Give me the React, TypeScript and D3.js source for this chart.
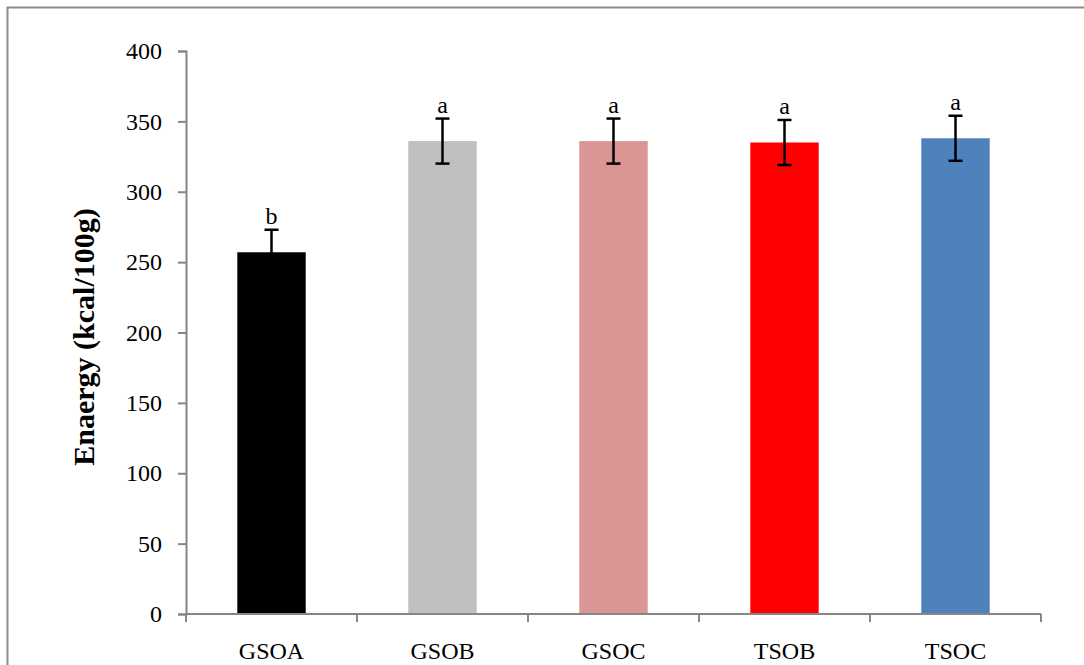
import React, { useEffect, useRef } from 'react';
import * as d3 from 'd3';

const categories = ['GSOA', 'GSOB', 'GSOC', 'TSOB', 'TSOC'];
const values = [257, 336, 336, 335, 338];
const errors = [16, 16, 16, 16, 16];
const letters = ['b', 'a', 'a', 'a', 'a'];
const colors = ['#000000', '#c0c0c0', '#d99694', '#ff0000', '#4f81bd'];
const yTicks = [0, 50, 100, 150, 200, 250, 300, 350, 400];

const width = 1084;
const height = 665;

export default function App() {
  const ref = useRef<SVGSVGElement>(null);

  useEffect(() => {
    const svg = d3.select(ref.current);
    svg.selectAll('*').remove();

    const font = '"Liberation Serif", "Times New Roman", serif';
    const axisColor = '#868686';

    // frame
    svg.append('rect')
      .attr('x', 7.5).attr('y', 7.5)
      .attr('width', width + 20).attr('height', height + 20)
      .attr('fill', 'none').attr('stroke', '#8c8c8c').attr('stroke-width', 2);

    const x = d3.scaleBand().domain(categories).range([186, 1041]).paddingInner(0).paddingOuter(0);
    const y = d3.scaleLinear().domain([0, 400]).range([614, 51]);
    const barW = x.bandwidth() * 0.4;

    const g = svg.append('g');

    // bars
    g.selectAll('rect.bar')
      .data(categories)
      .enter()
      .append('rect')
      .attr('class', 'bar')
      .attr('x', d => x(d)! + (x.bandwidth() - barW) / 2)
      .attr('y', (d, i) => y(values[i]))
      .attr('width', barW)
      .attr('height', (d, i) => y(0) - y(values[i]))
      .attr('fill', (d, i) => colors[i]);

    // error bars
    const eb = g.selectAll('g.err')
      .data(categories)
      .enter()
      .append('g')
      .attr('class', 'err')
      .attr('transform', d => `translate(${x(d)! + x.bandwidth() / 2},0)`);
    eb.append('line')
      .attr('y1', (d, i) => y(values[i] - errors[i]))
      .attr('y2', (d, i) => y(values[i] + errors[i]))
      .attr('stroke', '#000').attr('stroke-width', 2.5);
    eb.append('line')
      .attr('x1', -7).attr('x2', 7)
      .attr('y1', (d, i) => y(values[i] + errors[i]))
      .attr('y2', (d, i) => y(values[i] + errors[i]))
      .attr('stroke', '#000').attr('stroke-width', 2.5);
    eb.append('line')
      .attr('x1', -7).attr('x2', 7)
      .attr('y1', (d, i) => y(values[i] - errors[i]))
      .attr('y2', (d, i) => y(values[i] - errors[i]))
      .attr('stroke', '#000').attr('stroke-width', 2.5);
    eb.append('text')
      .attr('y', (d, i) => y(values[i] + errors[i]) - 6)
      .attr('text-anchor', 'middle')
      .style('font-family', font)
      .style('font-size', '24px')
      .attr('fill', '#000')
      .text((d, i) => letters[i]);

    // y axis
    const yAxis = g.append('g')
      .attr('transform', 'translate(186,0)')
      .call(d3.axisLeft(y).tickValues(yTicks).tickSize(8).tickPadding(16));
    yAxis.select('.domain').attr('stroke', axisColor).attr('stroke-width', 2);
    yAxis.selectAll('.tick line').attr('stroke', axisColor).attr('stroke-width', 2);
    yAxis.selectAll('.tick text')
      .attr('fill', '#000')
      .style('font-family', font)
      .style('font-size', '24px');

    // x axis
    const xTickPos = [186, ...categories.map(c => x(c)! + x.bandwidth())];
    const xg = g.append('g');
    xg.append('line')
      .attr('x1', 186).attr('x2', 1041)
      .attr('y1', y(0)).attr('y2', y(0))
      .attr('stroke', axisColor).attr('stroke-width', 2);
    xg.selectAll('line.tk')
      .data(xTickPos)
      .enter()
      .append('line')
      .attr('class', 'tk')
      .attr('x1', d => d).attr('x2', d => d)
      .attr('y1', y(0)).attr('y2', y(0) + 8)
      .attr('stroke', axisColor).attr('stroke-width', 2);
    xg.selectAll('text')
      .data(categories)
      .enter()
      .append('text')
      .attr('x', d => x(d)! + x.bandwidth() / 2)
      .attr('y', 659)
      .attr('text-anchor', 'middle')
      .style('font-family', font)
      .style('font-size', '24px')
      .attr('fill', '#000')
      .text(d => d);

    // y title
    g.append('text')
      .attr('transform', 'translate(94,337) rotate(-90)')
      .attr('text-anchor', 'middle')
      .style('font-family', font)
      .style('font-size', '30px')
      .style('font-weight', 'bold')
      .attr('fill', '#000')
      .text('Enaergy (kcal/100g)');
  }, []);

  return (
    <svg
      ref={ref}
      width={width}
      height={height}
      style={{ position: 'absolute', left: 0, top: 0, background: '#fff' }}
    />
  );
}
